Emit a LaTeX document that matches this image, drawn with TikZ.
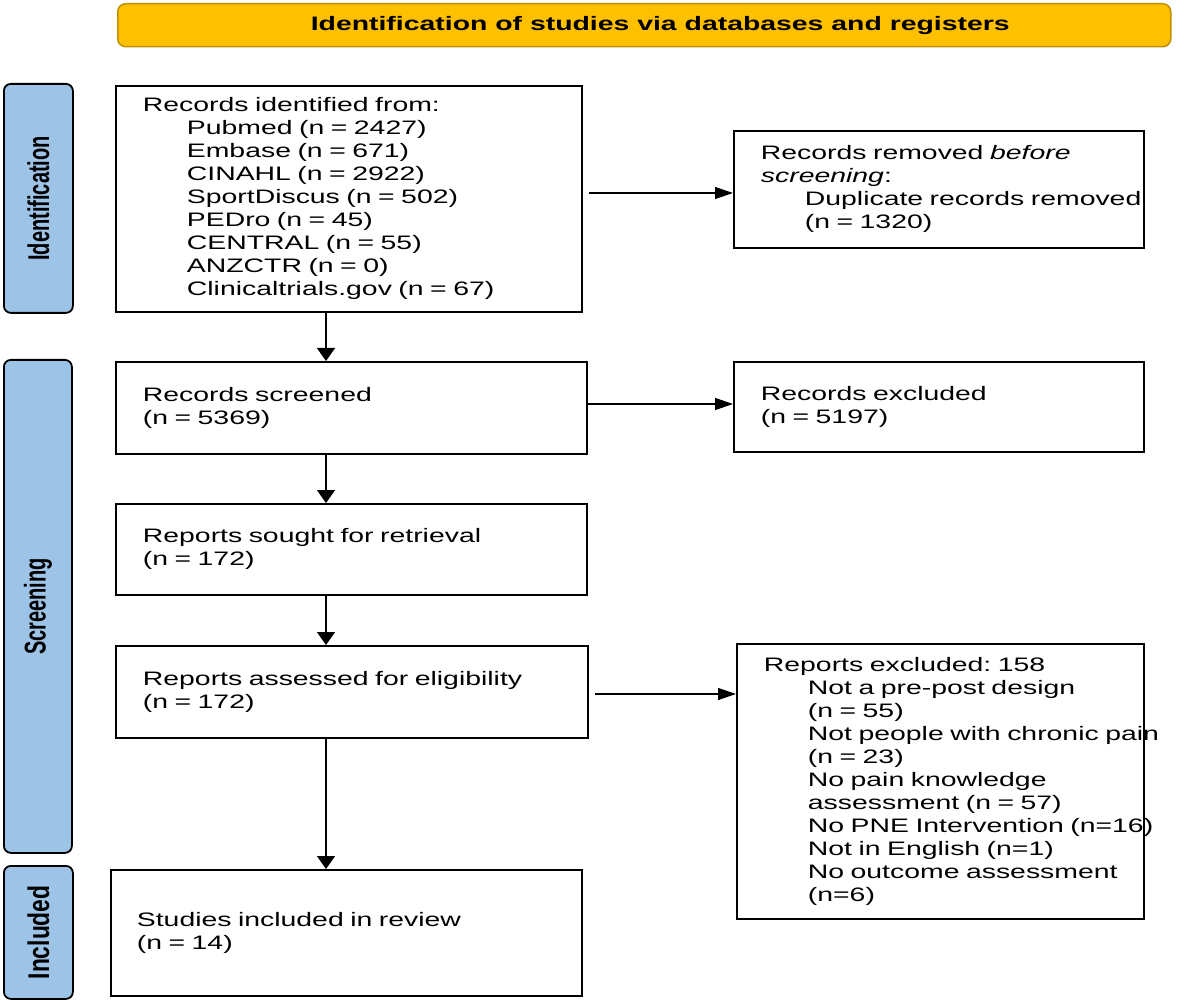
\documentclass[tikz,border=0pt]{standalone}
\usepackage{graphicx}
\usepackage{fontspec}
\setmainfont{Liberation Sans}[FakeStretch=1.456]
\newfontfamily\sidefont{Liberation Sans}
\usetikzlibrary{arrows.meta,calc}
\definecolor{gold}{HTML}{FFC000}
\definecolor{goldedge}{HTML}{BF9000}
\definecolor{sideblue}{HTML}{9DC3E6}
\newcommand\myind[1]{\mbox{\hspace*{44pt}#1}}
\frenchspacing
\begin{document}
\begin{tikzpicture}[x=1pt,y=-1pt,
  box/.style={draw=black, line width=1.8pt, rectangle, inner ysep=0pt, inner xsep=27pt,
    align=left, font=\fontsize{19.5}{23}\selectfont, anchor=north west},
  sidebar/.style={draw=black, line width=1.8pt, fill=sideblue, rounded corners=7pt,
    anchor=north west, inner sep=0pt},
  header/.style={draw=goldedge, line width=1.5pt, fill=gold, rounded corners=8pt,
    anchor=north west, inner sep=0pt, font=\fontsize{19.5}{23}\selectfont\bfseries},
  harr/.style={line width=1.3pt, -{Triangle[length=18pt,width=12pt]}},
  varr/.style={line width=1.3pt, -{Triangle[length=13pt,width=18pt]}}]
\useasboundingbox (0,0) rectangle (1200,1000);
\fill[white] (0,0) rectangle (1200,1000);

% header
\node[header, minimum width=1053pt, minimum height=43pt] (hdr) at (117,3)
  {\hspace*{32pt}Identification of studies via databases and registers};

% side bars
\node[sidebar, minimum width=69pt, minimum height=229pt] (sid) at (3,83)
  {\rotatebox{90}{\scalebox{1}[1.5]{\fontsize{20}{24}\sidefont\bfseries Identification}}};
\node[sidebar, minimum width=68pt, minimum height=493pt] (sscr) at (3,359)
  {\rotatebox{90}{\scalebox{1}[1.5]{\fontsize{20}{24}\sidefont\bfseries Screening}}};
\node[sidebar, minimum width=69pt, minimum height=133pt] (sinc) at (3,865)
  {\rotatebox{90}{\scalebox{1.14}[1.5]{\fontsize{20}{24}\sidefont\bfseries Included}}};

% left column
\node[box, text width=412pt, minimum height=226pt] (B1) at (115,85)
  {Records identified from:\\
   \myind{Pubmed (n = 2427)}\\
   \myind{Embase (n = 671)}\\
   \myind{CINAHL (n = 2922)}\\
   \myind{SportDiscus (n = 502)}\\
   \myind{PEDro (n = 45)}\\
   \myind{CENTRAL (n = 55)}\\
   \myind{ANZCTR (n = 0)}\\
   \myind{Clinicaltrials.gov (n = 67)}};
\node[box, text width=417pt, minimum height=92pt] (B2) at (115,361)
  {Records screened\\(n = 5369)};
\node[box, text width=417pt, minimum height=91pt] (B3) at (115,503)
  {Reports sought for retrieval\\(n = 172)};
\node[box, text width=418pt, minimum height=92pt] (B4) at (115,645)
  {Reports assessed for eligibility\\(n = 172)};
\node[box, inner xsep=26pt, text width=419pt, minimum height=126pt] (B5) at (110,869)
  {Studies included in review\\(n = 14)};

% right column
\node[box, text width=356pt, minimum height=117pt] (R1) at (733,130)
  {\mbox{Records removed \textit{before}}\\
   \textit{screening}:\\
   \myind{Duplicate records removed}\\
   \myind{(n = 1320)}};
\node[box, text width=356pt, minimum height=90pt] (R2) at (733,361)
  {Records excluded\\(n = 5197)};
\node[box, text width=353pt, minimum height=275pt] (R3) at (736,643)
  {Reports excluded: 158\\
   \myind{Not a pre-post design}\\
   \myind{(n = 55)}\\
   \myind{Not people with chronic pain}\\
   \myind{(n = 23)}\\
   \myind{No pain knowledge}\\
   \myind{assessment (n = 57)}\\
   \myind{No PNE Intervention (n=16)}\\
   \myind{Not in English (n=1)}\\
   \myind{No outcome assessment}\\
   \myind{(n=6)}};

% connectors
\coordinate (ax) at (326,0);
\coordinate (ay1) at (0,193);
\coordinate (ay2) at (0,404);
\coordinate (ay3) at (0,694);
\draw[varr] (B1.south -| ax) -- (B2.north -| ax);
\draw[varr] (B2.south -| ax) -- (B3.north -| ax);
\draw[varr] (B3.south -| ax) -- (B4.north -| ax);
\draw[varr] (B4.south -| ax) -- (B5.north -| ax);
\draw[harr] ([xshift=6pt]B1.east |- ay1) -- (R1.west |- ay1);
\draw[harr] (B2.east |- ay2) -- (R2.west |- ay2);
\draw[harr] ([xshift=6pt]B4.east |- ay3) -- (R3.west |- ay3);
\end{tikzpicture}
\end{document}
